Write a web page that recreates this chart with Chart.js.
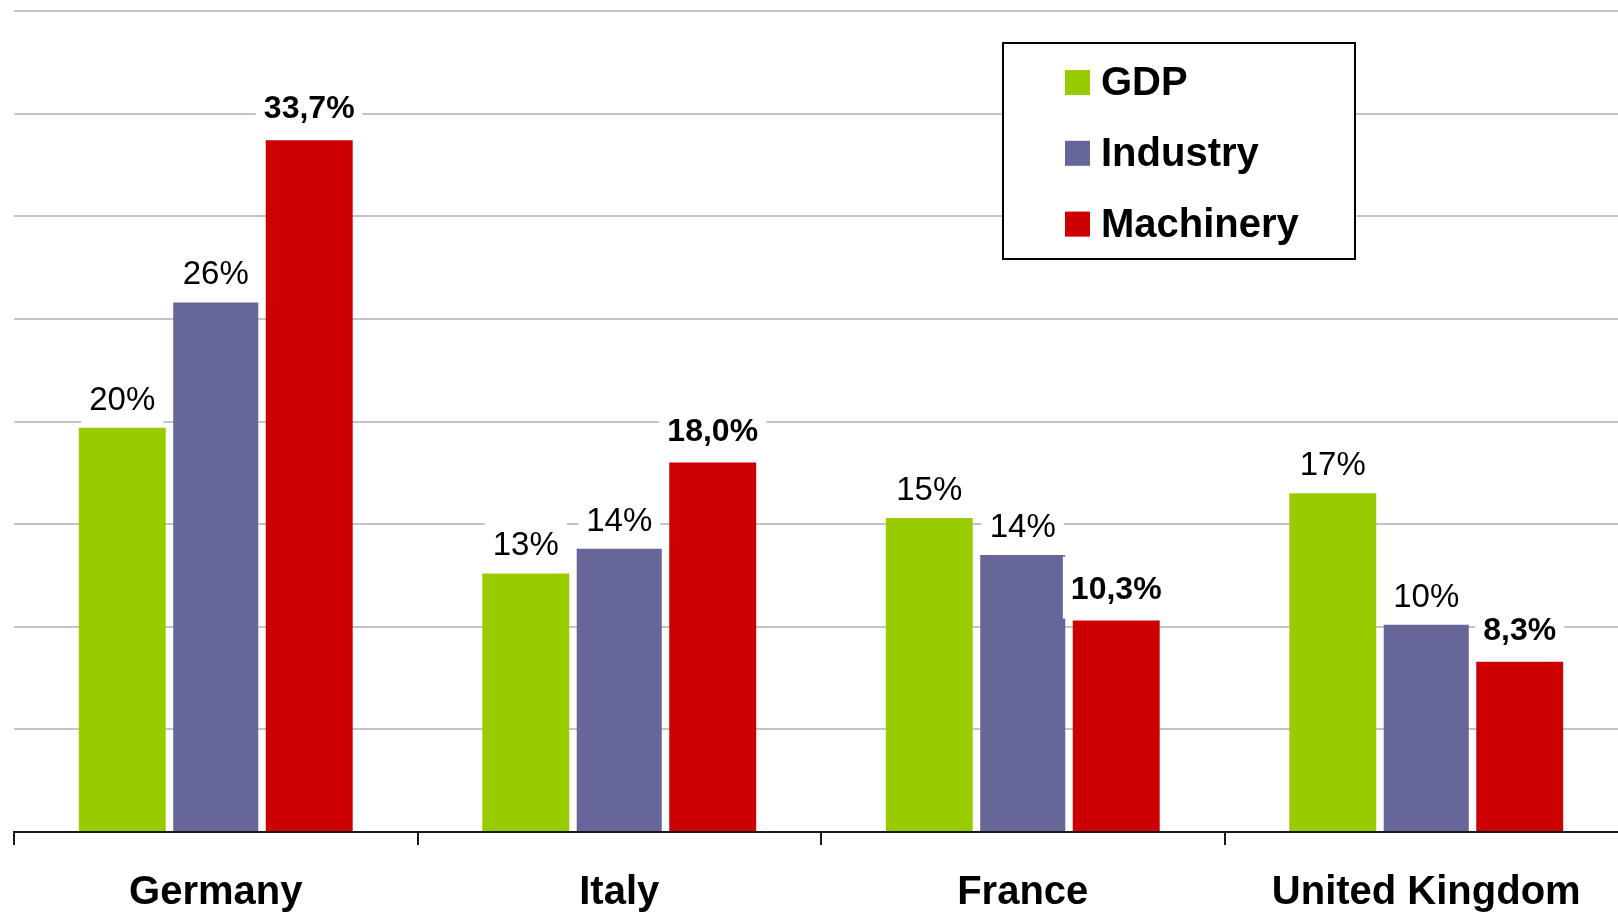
<!DOCTYPE html>
<html>
<head>
<meta charset="utf-8">
<script src="https://cdn.jsdelivr.net/npm/chart.js@4.4.1/dist/chart.umd.min.js"></script>
<style>
  html, body { margin: 0; padding: 0; background: #fff; overflow: hidden; }
  #wrap { width: 1628px; height: 912px; }
</style>
</head>
<body>
<div id="wrap"><canvas id="chart" width="1628" height="912"></canvas></div>
<script>
var countries = ['Germany', 'Italy', 'France', 'United Kingdom'];
var gdp = [19.7, 12.6, 15.3, 16.5];
var industry = [25.8, 13.8, 13.5, 10.1];
var machinery = [33.7, 18.0, 10.3, 8.3];
var seriesNames = ['GDP', 'Industry', 'Machinery'];
var seriesColors = ['#99cc00', '#666699', '#cc0000'];
var yTicks = [0, 5, 10, 15, 20, 25, 30, 35, 40];

var FONT = '"Liberation Sans", Arial, sans-serif';

// value labels on a white box above each bar; machinery values bold with one decimal
var valueLabels = {
  id: 'valueLabels',
  afterDatasetsDraw: function(chart) {
    var ctx = chart.ctx;
    ctx.save();
    chart.data.datasets.forEach(function(ds, i) {
      var meta = chart.getDatasetMeta(i);
      var bold = i === 2;
      meta.data.forEach(function(bar, j) {
        var v = ds.data[j];
        var text = bold ? v.toFixed(1).replace('.', ',') + '%' : Math.round(v) + '%';
        ctx.font = (bold ? 'bold 32px ' : '33px ') + FONT;
        var w = ctx.measureText(text).width;
        var base = bar.y - (bold ? 22 : 18);
        var top = base - 42;
        var bottom = bar.y - 2;
        ctx.fillStyle = '#ffffff';
        ctx.fillRect(bar.x - w / 2 - 8, top, w + 16, bottom - top);
        ctx.fillStyle = '#000000';
        ctx.textAlign = 'center';
        ctx.textBaseline = 'alphabetic';
        ctx.fillText(text, bar.x, base);
      });
    });
    ctx.restore();
  }
};

// boxed legend in the upper right
var boxLegend = {
  id: 'boxLegend',
  afterDraw: function(chart) {
    var ctx = chart.ctx;
    ctx.save();
    ctx.fillStyle = '#ffffff';
    ctx.fillRect(1003, 43, 352, 216);
    ctx.strokeStyle = '#000000';
    ctx.lineWidth = 2;
    ctx.strokeRect(1003, 43, 352, 216);
    ctx.font = 'bold 40px ' + FONT;
    ctx.textAlign = 'left';
    ctx.textBaseline = 'alphabetic';
    chart.data.datasets.forEach(function(ds, i) {
      var top = 70 + i * 70.8;
      ctx.fillStyle = ds.backgroundColor;
      ctx.fillRect(1065, top, 25, 25);
      ctx.fillStyle = '#000000';
      ctx.fillText(ds.label, 1101, top + 25);
    });
    ctx.restore();
  }
};

var datasets = [gdp, industry, machinery].map(function(values, i) {
  return {
    label: seriesNames[i],
    data: values,
    backgroundColor: seriesColors[i],
    borderWidth: 0,
    barPercentage: i === 1 ? 0.91 : 0.93,
    categoryPercentage: 0.695
  };
});

new Chart(document.getElementById('chart'), {
  type: 'bar',
  data: { labels: countries, datasets: datasets },
  options: {
    responsive: false,
    animation: false,
    devicePixelRatio: 1,
    layout: { padding: { top: 11, left: 14, right: 0, bottom: 0 } },
    plugins: {
      legend: { display: false },
      tooltip: { enabled: false }
    },
    scales: {
      x: {
        grid: {
          offset: true,
          drawOnChartArea: false,
          drawTicks: true,
          tickLength: 13,
          color: '#1a1a1a',
          lineWidth: 2
        },
        border: { display: true, color: '#1a1a1a', width: 2 },
        ticks: {
          color: '#000000',
          padding: 24,
          font: { family: FONT, size: 40, weight: 'bold' }
        },
        afterFit: function(scale) { scale.height = 80; }
      },
      y: {
        min: 0,
        max: 40,
        afterBuildTicks: function(scale) {
          scale.ticks = yTicks.map(function(v) { return { value: v }; });
        },
        ticks: { display: false },
        grid: { color: '#c4c4c4', lineWidth: 2, drawTicks: false },
        border: { display: false },
        afterFit: function(scale) { scale.width = 0; }
      }
    }
  },
  plugins: [valueLabels, boxLegend]
});
</script>
</body>
</html>
